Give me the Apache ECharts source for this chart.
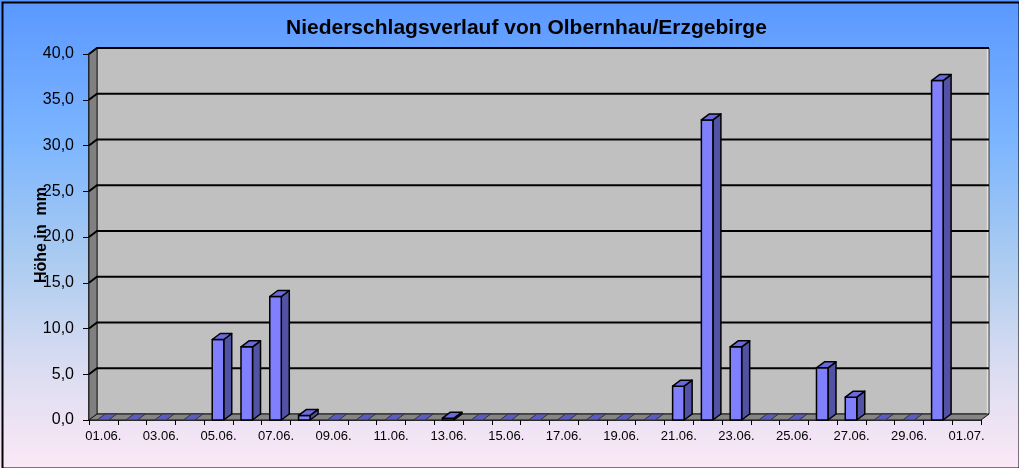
<!DOCTYPE html>
<html>
<head>
<meta charset="utf-8">
<script src="https://cdn.jsdelivr.net/npm/echarts@6/dist/echarts.min.js"></script>
<style>
html,body{margin:0;padding:0;}
#chart{width:1019px;height:468px;}
</style>
</head>
<body>
<div id="chart"></div>
<script>
var days = ['01.06.','02.06.','03.06.','04.06.','05.06.','06.06.','07.06.','08.06.','09.06.','10.06.',
  '11.06.','12.06.','13.06.','14.06.','15.06.','16.06.','17.06.','18.06.','19.06.','20.06.',
  '21.06.','22.06.','23.06.','24.06.','25.06.','26.06.','27.06.','28.06.','29.06.','30.06.','01.07.'];
var rain = [0,0,0,0,8.8,8.0,13.5,0.5,0,0,
  0,0,0.2,0,0,0,0,0,0,0,
  3.7,32.8,8.0,0,0,5.7,2.5,0,0,37.1,null];
var yTicks = [0,5,10,15,20,25,30,35,40];
var titleText = 'Niederschlagsverlauf von Olbernhau/Erzgebirge';
var yName = 'Höhe in  mm';

var WDX = 8, WDY = -6;   // wall depth
var BDX = 8, BDY = -6;   // bar depth

var chart = echarts.init(document.getElementById('chart'));

function wallsRender(params, api) {
  var cs = params.coordSys;
  var x = cs.x, y = cs.y, w = cs.width, h = cs.height;
  var children = [];
  children.push({type:'polygon', shape:{points:[[x+WDX,y+WDY],[x+w+WDX,y+WDY],[x+w+WDX,y+h+WDY],[x+WDX,y+h+WDY]]},
    style:{fill:'#c0c0c0', stroke:'#333', lineWidth:1}});
  children.push({type:'line', shape:{x1:x+w+WDX-1.5, y1:y+WDY+1, x2:x+w+WDX-1.5, y2:y+h+WDY},
    style:{stroke:'#e0e0e0', lineWidth:1.5}});
  children.push({type:'polygon', shape:{points:[[x,y],[x+WDX,y+WDY],[x+WDX,y+h+WDY],[x,y+h]]},
    style:{fill:'#808080', stroke:'#222', lineWidth:1}});
  children.push({type:'polygon', shape:{points:[[x,y+h],[x+WDX,y+h+WDY],[x+w+WDX,y+h+WDY],[x+w,y+h]]},
    style:{fill:'#858585', stroke:'#111', lineWidth:1}});
  for (var i = 1; i < yTicks.length; i++) {
    var py = api.coord([0, yTicks[i]])[1];
    children.push({type:'polyline', shape:{points:[[x,py],[x+WDX,py+WDY],[x+w+WDX,py+WDY]]},
      style:{stroke:'#000', lineWidth:2, fill:null}});
  }
  return {type:'group', children:children};
}

function barRender(params, api) {
  var v = api.value(1);
  if (v === null || v === undefined || isNaN(v)) return;
  var idx = api.value(0);
  var top = api.coord([idx, v]);
  var base = api.coord([idx, 0]);
  var cw = api.size([1, 0])[0];
  var bw = cw * 0.40;
  var xl = top[0] - bw/2 - 0.5, xr = xl + bw;
  var yt = top[1], yb = base[1];
  var st = {stroke:'#000', lineWidth:1.5, lineJoin:'round'};
  var children = [];
  if (yb - yt > 0.5) {
    children.push({type:'polygon', shape:{points:[[xr,yt],[xr+BDX,yt+BDY],[xr+BDX,yb+BDY],[xr,yb]]},
      style:Object.assign({fill:'#5252a4'}, st)});
    children.push({type:'polygon', shape:{points:[[xl,yt],[xr,yt],[xr,yb],[xl,yb]]},
      style:Object.assign({fill:'#8080ff'}, st)});
    children.push({type:'polygon', shape:{points:[[xl,yt],[xl+BDX,yt+BDY],[xr+BDX,yt+BDY],[xr,yt]]},
      style:Object.assign({fill:'#6a6ae0'}, st)});
  } else {
    children.push({type:'polygon', shape:{points:[[xl,yt],[xl+BDX,yt+BDY],[xr+BDX,yt+BDY],[xr,yt]]},
      style:{fill:'#5c5cc0', stroke:'#333', lineWidth:1}});
  }
  return {type:'group', children:children};
}

var option = {
  backgroundColor: {
    type:'linear', x:0, y:0, x2:0, y2:1,
    colorStops:[
      {offset:0, color:'#5a98ff'},
      {offset:0.3, color:'#7cb5ff'},
      {offset:0.55, color:'#aacbf0'},
      {offset:0.78, color:'#d9dcf1'},
      {offset:1, color:'#fce8f6'}
    ]
  },
  animation:false,
  title:{
    text:titleText, left:281, top:13,
    textStyle:{fontFamily:'Liberation Sans, Arial, sans-serif', fontSize:21, fontWeight:'bold', color:'#000'}
  },
  graphic:[{
    type:'rect', left:0, top:0, z:100,
    shape:{x:1, y:1, width:1017, height:466},
    style:{fill:null, stroke:'#000', lineWidth:2}
  },{
    type:'text', x:42, y:235, rotation:Math.PI/2, z:100,
    style:{text:yName, fill:'#000', align:'center', verticalAlign:'middle',
      font:'bold 16px "Liberation Sans", Arial, sans-serif'}
  }],
  grid:{left:89, right:38, top:54, bottom:48, containLabel:false},
  xAxis:{
    type:'category', data:days,
    axisLine:{show:true, lineStyle:{color:'#000', width:1.5}},
    axisTick:{show:true, interval:0, length:5, lineStyle:{color:'#000', width:1}},
    axisLabel:{interval:1, color:'#000', fontFamily:'Liberation Sans, Arial, sans-serif', fontSize:13, margin:10},
    splitLine:{show:false}
  },
  yAxis:{
    type:'value', min:0, max:40, interval:5,
    axisLine:{show:true, lineStyle:{color:'#000', width:1.5}},
    axisTick:{show:true, length:6, lineStyle:{color:'#000', width:1}},
    axisLabel:{color:'#000', fontFamily:'Liberation Sans, Arial, sans-serif', fontSize:16, margin:15,
      formatter:function(v){ return v.toFixed(1).replace('.', ','); }},
    splitLine:{show:false}
  },
  series:[
    {type:'custom', renderItem:wallsRender, data:[[0,0]], z:1, silent:true},
    {type:'custom', renderItem:barRender,
     data:days.map(function(d,i){ return [i, rain[i]]; }), z:2,
     encode:{x:0, y:1}}
  ]
};
chart.setOption(option);
</script>
</body>
</html>
